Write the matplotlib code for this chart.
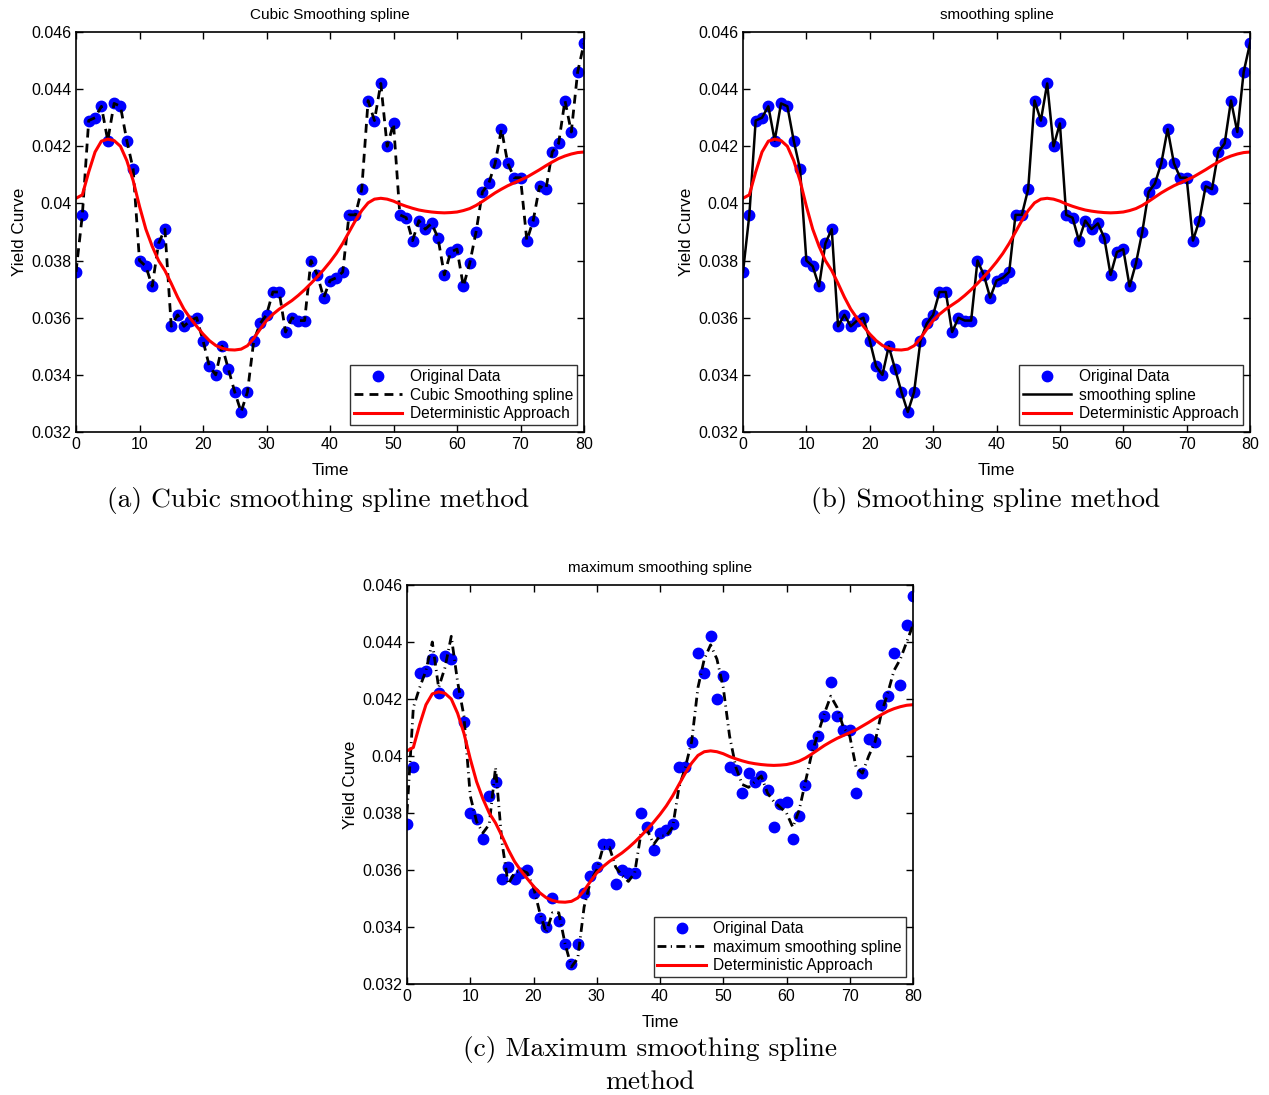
import matplotlib
matplotlib.use("Agg")
import matplotlib.pyplot as plt
from matplotlib.ticker import FixedLocator, FixedFormatter

plt.rcParams['font.family'] = ['Liberation Sans', 'DejaVu Sans']

time = list(range(81))

yield_data = [0.0376, 0.0396, 0.0429, 0.0430, 0.0434, 0.0422, 0.0435, 0.0434, 0.0422, 0.0412,
              0.0380, 0.0378, 0.0371, 0.0386, 0.0391, 0.0357, 0.0361, 0.0357, 0.0359, 0.0360,
              0.0352, 0.0343, 0.0340, 0.0350, 0.0342, 0.0334, 0.0327, 0.0334, 0.0352, 0.0358,
              0.0361, 0.0369, 0.0369, 0.0355, 0.0360, 0.0359, 0.0359, 0.0380, 0.0375, 0.0367,
              0.0373, 0.0374, 0.0376, 0.0396, 0.0396, 0.0405, 0.0436, 0.0429, 0.0442, 0.0420,
              0.0428, 0.0396, 0.0395, 0.0387, 0.0394, 0.0391, 0.0393, 0.0388, 0.0375, 0.0383,
              0.0384, 0.0371, 0.0379, 0.0390, 0.0404, 0.0407, 0.0414, 0.0426, 0.0414, 0.0409,
              0.0409, 0.0387, 0.0394, 0.0406, 0.0405, 0.0418, 0.0421, 0.0436, 0.0425, 0.0446,
              0.0456]

cubic_spline = list(yield_data)
smoothing_spline = list(yield_data)

max_spline = [0.0380, 0.0417, 0.0424, 0.0430, 0.0440, 0.0424, 0.0431, 0.0442, 0.0426, 0.0414,
              0.0386, 0.0377, 0.0373, 0.0376, 0.0396, 0.0370, 0.0355, 0.0359, 0.0360, 0.0359,
              0.0354, 0.0345, 0.0338, 0.0345, 0.0345, 0.0334, 0.0326, 0.0329, 0.0347, 0.0356,
              0.0360, 0.0368, 0.0368, 0.0361, 0.0358, 0.0356, 0.0359, 0.0373, 0.0374, 0.0369,
              0.0372, 0.0372, 0.0375, 0.0389, 0.0396, 0.0405, 0.0424, 0.0434, 0.0439, 0.0434,
              0.0424, 0.0407, 0.0396, 0.0390, 0.0389, 0.0391, 0.0393, 0.0387, 0.0384, 0.0382,
              0.0380, 0.0375, 0.0381, 0.0391, 0.0401, 0.0408, 0.0415, 0.0421, 0.0417, 0.0410,
              0.0407, 0.0396, 0.0394, 0.0400, 0.0405, 0.0415, 0.0422, 0.0430, 0.0434, 0.0440,
              0.0446]

deterministic = [0.04018, 0.04030, 0.04110, 0.04180, 0.04218, 0.04225, 0.04220, 0.04200, 0.04150, 0.04080,
                 0.03990, 0.03910, 0.03850, 0.03800, 0.03765, 0.03720, 0.03672, 0.03630, 0.03598, 0.03570,
                 0.03543, 0.03520, 0.03503, 0.03493, 0.03488, 0.03487, 0.03490, 0.03502, 0.03528, 0.03560,
                 0.03590, 0.03612, 0.03630, 0.03645, 0.03660, 0.03678, 0.03698, 0.03720, 0.03743, 0.03768,
                 0.03795, 0.03825, 0.03860, 0.03900, 0.03940, 0.03975, 0.04002, 0.04015, 0.04018, 0.04015,
                 0.04008, 0.03998, 0.03990, 0.03983, 0.03977, 0.03973, 0.03970, 0.03968, 0.03967, 0.03968,
                 0.03970, 0.03975, 0.03982, 0.03993, 0.04007, 0.04022, 0.04037, 0.04050, 0.04062, 0.04072,
                 0.04082, 0.04092, 0.04105, 0.04118, 0.04132, 0.04145, 0.04157, 0.04166, 0.04173, 0.04178,
                 0.04180]

y_ticks = [0.032, 0.034, 0.036, 0.038, 0.040, 0.042, 0.044, 0.046]
y_tick_labels = ['0.032', '0.034', '0.036', '0.038', '0.04', '0.042', '0.044', '0.046']
x_ticks = [0, 10, 20, 30, 40, 50, 60, 70, 80]

titles = ['Cubic Smoothing spline', 'smoothing spline', 'maximum smoothing spline']
spline_labels = ['Cubic Smoothing spline', 'smoothing spline', 'maximum smoothing spline']
captions = ['(a) Cubic smoothing spline method', '(b) Smoothing spline method',
            '(c) Maximum smoothing spline\nmethod']

W, H = 1269, 1095
fig = plt.figure(figsize=(W / 100, H / 100), dpi=100)

def box(l, t, r, b):
    return [l / W, 1 - b / H, (r - l) / W, (b - t) / H]

axes_boxes = [box(76, 32, 584, 432), box(743, 32, 1250, 432), box(407, 585, 913, 984)]
spline_series = [cubic_spline, smoothing_spline, max_spline]
spline_styles = [dict(ls=(0, (3.2, 2.2)), lw=2.0), dict(ls='-', lw=1.8),
                 dict(ls=(0, (3.2, 1.6, 0.4, 1.6)), lw=2.0)]

for i in range(3):
    ax = fig.add_axes(axes_boxes[i])
    ax.plot(time, yield_data, 'o', color='#0000ff', markersize=7.5, mec='#0000ff',
            label='Original Data')
    ax.plot(time, spline_series[i], color='black', label=spline_labels[i], **spline_styles[i])
    ax.plot(time, deterministic, color='#ff0000', lw=2.2, label='Deterministic Approach')
    ax.set_xlim(0, 80)
    ax.set_ylim(0.032, 0.046)
    ax.xaxis.set_major_locator(FixedLocator(x_ticks))
    ax.yaxis.set_major_locator(FixedLocator(y_ticks))
    ax.yaxis.set_major_formatter(FixedFormatter(y_tick_labels))
    ax.tick_params(direction='in', length=5, width=1, top=True, right=True,
                   labelsize=11.5, pad=3.5)
    for s in ax.spines.values():
        s.set_linewidth(1.2)
    ax.set_title(titles[i], fontsize=11, pad=9.5)
    ax.set_xlabel('Time', fontsize=12.3, labelpad=8)
    ax.set_ylabel('Yield Curve', fontsize=12.3, labelpad=3)
    leg = ax.legend(loc='lower right', fontsize=11.2, frameon=True, fancybox=False,
                    edgecolor='black', borderaxespad=0.45, handlelength=3.1,
                    borderpad=0.25, labelspacing=0.22, handletextpad=0.5)
    leg.get_frame().set_linewidth(1.0)

fig.text(318 / W, 1 - 500 / H, captions[0], fontfamily='cmr10', fontsize=19.7,
         ha='center', va='center')
fig.text(986 / W, 1 - 500 / H, captions[1], fontfamily='cmr10', fontsize=19.7,
         ha='center', va='center')
fig.text(650 / W, 1 - 1065 / H, captions[2], fontfamily='cmr10', fontsize=19.7,
         ha='center', va='center', linespacing=1.35)

fig.savefig('out.png', dpi=100)
